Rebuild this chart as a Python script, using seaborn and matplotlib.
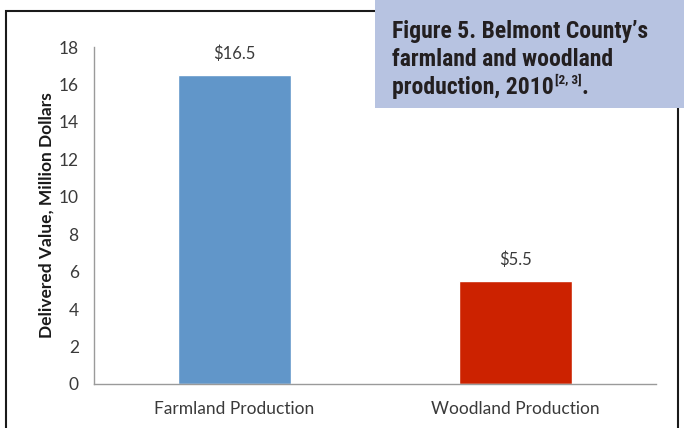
import matplotlib
matplotlib.use("Agg")
import matplotlib.pyplot as plt
from matplotlib.patches import Rectangle
from matplotlib.ticker import FixedLocator, NullFormatter
import seaborn as sns
import pandas as pd

categories = ["Farmland Production", "Woodland Production"]
values = [16.5, 5.5]
value_labels = ["$16.5", "$5.5"]
bar_colors = ["#6196c9", "#cc2200"]
y_ticks = [0, 2, 4, 6, 8, 10, 12, 14, 16, 18]

sns.set_theme(style="white")
plt.rcParams["font.family"] = ["Lato", "DejaVu Sans"]

df = pd.DataFrame({"category": categories, "value": values})

W, H = 684, 428
fig = plt.figure(figsize=(W / 100, H / 100), dpi=100)
ax = fig.add_axes([94 / W, 1 - 384 / H, (656 - 94) / W, (384 - 47) / H])

sns.barplot(data=df, x="category", y="value", hue="category",
            palette=bar_colors, width=0.405, legend=False, ax=ax,
            saturation=1)

ax.set_xlim(-0.5, 1.5)
ax.set_ylim(0, 18)
ax.set_yticks(y_ticks)
ax.set_xlabel("")
ax.set_ylabel("Delivered Value, Million Dollars", fontsize=12.5,
              fontweight="bold", color="#1a1a1a", labelpad=3)

for spine in ["top", "right"]:
    ax.spines[spine].set_visible(False)
for spine in ["left", "bottom"]:
    ax.spines[spine].set_color("#9a9a9a")
    ax.spines[spine].set_linewidth(1.0)

ax.tick_params(axis="y", which="major", direction="out", length=5,
               width=0.8, color="#9a9a9a", labelsize=12.5,
               labelcolor="#3a3a3a", pad=6)
ax.tick_params(axis="x", which="major", length=0, labelsize=12.5,
               labelcolor="#3a3a3a", pad=12)
ax.xaxis.set_minor_locator(FixedLocator([-0.5, 0.5, 1.5]))
ax.xaxis.set_minor_formatter(NullFormatter())
ax.tick_params(axis="x", which="minor", direction="out", length=5,
               width=0.8, color="#9a9a9a")

for i, (v, lab) in enumerate(zip(values, value_labels)):
    ax.text(i, v + 0.7, lab, ha="center", va="bottom", fontsize=12,
            color="#3a3a3a")

# Outer frame
fig.add_artist(Rectangle((6 / W, -0.05), (678 - 6) / W, 1.05 - 11 / H,
                         transform=fig.transFigure, fill=False,
                         edgecolor="#1a1a1a", linewidth=1.5, zorder=5))

# Caption box
fig.add_artist(Rectangle((375 / W, 1 - 108 / H), 1.0, 108 / H + 0.01,
                         transform=fig.transFigure, facecolor="#b7c3e1",
                         edgecolor="none", zorder=6))

cap_font = dict(fontweight="bold", color="#231f20", zorder=7,
                family=["Roboto Condensed", "Roboto", "DejaVu Sans"])
cap_lines = ["Figure 5. Belmont County\u2019s", "farmland and woodland",
             "production, 2010"]
baselines = [38, 66, 94]
x0 = 392 / W
last = None
for line, yb in zip(cap_lines, baselines):
    last = fig.text(x0, 1 - yb / H, line, ha="left", va="baseline",
                    fontsize=17, **cap_font)

fig.canvas.draw()
renderer = fig.canvas.get_renderer()
bb = last.get_window_extent(renderer)
sup = fig.text(bb.x1 / W + 1 / W, 1 - (94 - 10) / H, "[2, 3]", ha="left",
               va="baseline", fontsize=9.5, **cap_font)
bb2 = sup.get_window_extent(renderer)
fig.text(bb2.x1 / W, 1 - 94 / H, ".", ha="left", va="baseline",
         fontsize=17, **cap_font)

fig.savefig("out.png", dpi=100)
